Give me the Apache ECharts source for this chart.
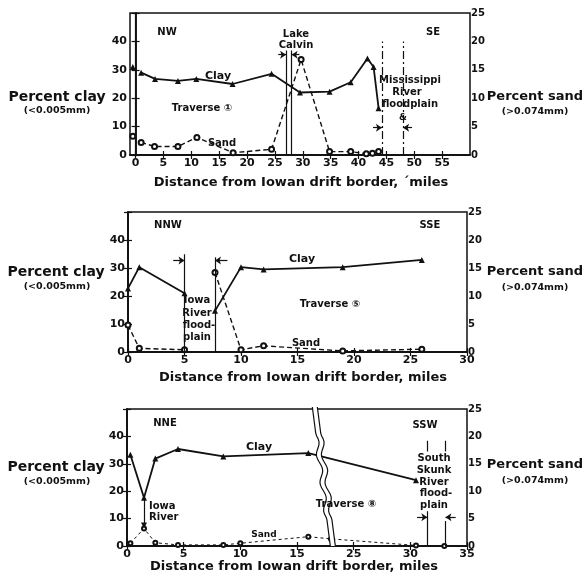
<!DOCTYPE html>
<html><head><meta charset="utf-8">
<script src="https://cdn.jsdelivr.net/npm/echarts@6/dist/echarts.min.js"></script>
<style>html,body{margin:0;padding:0;background:#fff}#c{width:586px;height:579px}</style>
</head><body><div id="c"></div>
<script>
// ---------- data ----------
const xTicks1 = [0,5,10,15,20,25,30,35,40,45,50,55];
const clay1 = [[-0.5,31],[0,'-'],[1,29],[3.5,26.8],[7.6,26.1],[10.9,26.8],[17.4,25],[24.4,28.6],[29.5,22],[34.8,22.3],[38.6,25.6],[41.6,34],[42.7,31],[43.6,16.5]];
const sand1 = [[-0.5,3.3],[0,'-'],[1,2.2],[3.4,1.5],[7.6,1.5],[11,3.1],[17.5,0.4],[24.4,1.0],[29.7,16.8],[34.8,0.6],[38.6,0.6],[41.4,0.2],[42.5,0.3],[43.6,0.6]];
const clay2 = [[0,22.7],[1,30.3],[5,21],[6,'-'],[7.7,14.7],[10,30.3],[12,29.5],[19,30.3],[26,32.9]];
const sand2 = [[0,4.8],[1,0.65],[5,0.4],[6,'-'],[7.7,14.2],[10,0.4],[12,1.1],[19,0.2],[26,0.5]];
const clay3 = [[0.3,33.3],[1.5,17.6],[2.5,31.9],[4.5,35.4],[8.5,32.7],[16,33.9],[30.5,24]];
const sand3 = [[0.3,0.5],[1.5,3.2],[2.5,0.6],[4.5,0.2],[8.5,0.2],[10,0.5],[16,1.7],[23,1.3],[30.5,0.1],[33,0]];
const leftTicks = [0,10,20,30,40];
const rightTicks = [0,5,10,15,20,25];
// annotation lines (x positions in miles)
const lakeCalvin = [27.0, 28.0];
const mississippi = [44.2, 48.0];
const iowaFlood2 = [5, 7.7];
const skunk3 = [31.5, 33.1];
const iowaRiver3 = [1.5, 17.6, 7.5];
// panel 3 axis break: miles 17.5..22.5 are cut out of the distance axis
const break3 = {start:17.5, end:22.5};

const FONT = '"DejaVu Sans", "Liberation Sans", sans-serif';
const ink = '#111';
const lblStyle = {color: ink, fontFamily: FONT, fontWeight: 'bold', fontSize: 11};

// broken-axis scale for panel 3 (real miles -> axis value, and back for labels)
const cut = break3.end - break3.start;
const toAxis3 = x => x <= break3.start ? x : (x >= break3.end ? x - cut : break3.start);
const fromAxis3 = v => v < break3.start ? v : v + cut;
const mapPts3 = arr => arr.map(p => [toAxis3(p[0]), p[1]]);

const grids = [
  {left:130, top:13, width:340, height:142},
  {left:128, top:212, width:339, height:140},
  {left:127, top:409, width:340, height:137}
].map(g => Object.assign({show:true, borderColor: ink, borderWidth: 1.5, backgroundColor:'transparent'}, g));

function xBottom(gi, min, max, extra) {
  return Object.assign({
    type:'value', gridIndex: gi, min, max, position:'bottom',
    axisLine:{show:true, lineStyle:{color:ink, width:1.5}},
    axisTick:{show:true, inside:true, length:4, lineStyle:{color:ink, width:1.2}},
    axisLabel:Object.assign({margin:3}, lblStyle),
    splitLine:{show:false}
  }, extra || {});
}
function xTop(gi, min, max, extra) {
  return Object.assign({
    type:'value', gridIndex: gi, min, max, position:'top',
    axisLine:{show:true, lineStyle:{color:ink, width:1.5}},
    axisTick:{show:true, inside:true, length:4, lineStyle:{color:ink, width:1.2}},
    axisLabel:{show:false},
    splitLine:{show:false}
  }, extra || {});
}
function yLeft(gi) {
  return {
    type:'value', gridIndex: gi, min:0, max:50, interval:10, position:'left',
    axisLine:{show:true, lineStyle:{color:ink, width:1.5}},
    axisTick:{show:true, length:4, lineStyle:{color:ink, width:1.2}},
    axisLabel:Object.assign({margin:3, formatter: v => leftTicks.includes(v) ? String(v) : ''}, lblStyle),
    splitLine:{show:false}
  };
}
function yRight(gi) {
  return {
    type:'value', gridIndex: gi, min:0, max:25, interval:5, position:'right',
    axisLine:{show:true, lineStyle:{color:ink, width:1.5}},
    axisTick:{show:true, length:4, lineStyle:{color:ink, width:1.2}},
    axisLabel:Object.assign({margin:1, formatter: v => rightTicks.includes(v) ? String(v) : ''}, lblStyle, {fontSize:10}),
    splitLine:{show:false}
  };
}

const tickOpts1 = {
  axisTick:{show:true, inside:true, length:4, lineStyle:{color:ink, width:1.2}, customValues: xTicks1},
  axisLabel:Object.assign({margin:3, customValues: xTicks1}, lblStyle)
};

const xAxes = [
  xBottom(0, -1, 60, tickOpts1),
  xTop(0, -1, 60, {axisTick:{show:true, inside:true, length:4, lineStyle:{color:ink, width:1.2}, customValues: xTicks1}}),
  xBottom(1, 0, 30, {interval:5}),
  xTop(1, 0, 30, {interval:5}),
  xBottom(2, 0, 35 - cut, {interval:5, axisLabel:Object.assign({margin:3, formatter: v => String(fromAxis3(v))}, lblStyle)}),
  xTop(2, 0, 35 - cut, {interval:5})
];
const yAxes = [yLeft(0), yRight(0), yLeft(1), yRight(1), yLeft(2), yRight(2)];

function seg(x1, y1, x2, y2, style, sym) {
  return [{coord:[x1,y1], symbol: sym ? sym[0] : 'none', lineStyle: style},
          {coord:[x2,y2], symbol: sym ? sym[1] : 'none'}];
}
const solid = {color:ink, width:1.2, type:'solid'};
const dashdot = {color:ink, width:1.2, type:[8,3,2,3]};
const arrowSym = ['none','arrow'];

function claySeries(p, data, marks) {
  return {
    type:'line', xAxisIndex: 2*p, yAxisIndex: 2*p, data,
    symbol:'triangle', symbolSize:6, showAllSymbol:true,
    lineStyle:{color:ink, width:1.8}, itemStyle:{color:ink},
    connectNulls:false, silent:true, z:3,
    markLine: {silent:true, symbol:'none', symbolSize:6, label:{show:false}, animation:false,
               lineStyle:{color:ink, width:1.2, type:'solid'}, data: marks}
  };
}
function sandSeries(p, data, fine) {
  return {
    type:'line', xAxisIndex: 2*p, yAxisIndex: 2*p+1, data,
    symbol:'emptyCircle', symbolSize: fine ? 4 : 5, showAllSymbol:true,
    lineStyle:{color:ink, width: fine ? 1 : 1.4, type: fine ? [3,3] : [5,3]},
    itemStyle:{color:ink, borderColor:ink, borderWidth:1},
    connectNulls:false, silent:true, z:3
  };
}

const marks1 = [
  seg(0, 0, 0, 50, solid),
  seg(lakeCalvin[0], 0, lakeCalvin[0], 36.8, solid),
  seg(lakeCalvin[1], 0, lakeCalvin[1], 36.8, solid),
  seg(lakeCalvin[0]-1.4, 35.3, lakeCalvin[0], 35.3, solid, arrowSym),
  seg(lakeCalvin[1]+1.4, 35.3, lakeCalvin[1], 35.3, solid, arrowSym),
  seg(mississippi[0], 0, mississippi[0], 40, dashdot),
  seg(mississippi[1], 0, mississippi[1], 40, dashdot),
  seg(mississippi[0]-1.6, 9.6, mississippi[0], 9.6, solid, arrowSym),
  seg(mississippi[1]+1.6, 9.6, mississippi[1], 9.6, solid, arrowSym)
];
const marks2 = [
  seg(iowaFlood2[0], 0, iowaFlood2[0], 34.9, solid),
  seg(iowaFlood2[1], 0, iowaFlood2[1], 33.8, solid),
  seg(iowaFlood2[0]-1, 32.7, iowaFlood2[0], 32.7, solid, arrowSym),
  seg(iowaFlood2[1]+1.1, 32.7, iowaFlood2[1], 32.7, solid, arrowSym)
];
const s0 = toAxis3(skunk3[0]), s1 = toAxis3(skunk3[1]);
const marks3 = [
  seg(toAxis3(iowaRiver3[0]), iowaRiver3[1], toAxis3(iowaRiver3[0]), iowaRiver3[2], solid, ['none','triangle']),
  seg(s0, 34.5, s0, 38.4, solid),
  seg(s1, 34.5, s1, 38.4, solid),
  seg(s0, 0, s0, 12.7, solid),
  seg(s1, 0, s1, 9.1, solid),
  seg(s0-0.9, 10.5, s0, 10.5, solid, arrowSym),
  seg(s1+0.9, 10.5, s1, 10.5, solid, arrowSym)
];

// wavy double break line in panel 3
const breakSeries = {
  type:'custom', xAxisIndex:4, yAxisIndex:4, data:[[break3.start, 0]], silent:true, z:5, clip:false,
  renderItem: function(params, api) {
    const top = api.coord([break3.start, 50]);
    const bot = api.coord([break3.start, 0]);
    const h = bot[1] - top[1];
    function pts(off) {
      const arr = [];
      const n = 48;
      for (let i = 0; i <= n; i++) {
        const t = i / n;
        let x = top[0] - 13 + 18 * t + off;
        if (t > 0.2 && t < 0.8) x += 2.2 * Math.sin((t - 0.2) * Math.PI * 10);
        arr.push([x, top[1] - 2 + (h + 2) * t]);
      }
      return arr;
    }
    return {type:'group', children:[
      {type:'polygon', shape:{points: pts(0).concat(pts(5).reverse())}, style:{fill:'#fff', stroke:null}},
      {type:'polyline', shape:{points: pts(0)}, style:{fill:null, stroke:ink, lineWidth:1.2}},
      {type:'polyline', shape:{points: pts(5)}, style:{fill:null, stroke:ink, lineWidth:1.2}}
    ]};
  }
};

function txt(text, x, y, size, extra) {
  return {type:'text', silent:true, z:10, x, y, style:Object.assign({
    text, fill: ink, font: 'bold ' + size + 'px ' + FONT, textAlign:'center', textVerticalAlign:'middle'
  }, extra || {})};
}
const xTitle = 'Distance from Iowan drift border, miles';
const left = {textAlign:'left'};
const graphics = [
  // side titles
  txt('Percent clay', 57, 97, 14), txt('(<0.005mm)', 57, 111, 9.5),
  txt('Percent sand', 535, 97, 13), txt('(>0.074mm)', 535, 112, 9.5),
  txt('Percent clay', 56, 272, 14), txt('(<0.005mm)', 57, 287, 9.5),
  txt('Percent sand', 535, 272, 13), txt('(>0.074mm)', 535, 288, 9.5),
  txt('Percent clay', 56, 467, 14), txt('(<0.005mm)', 57, 482, 9.5),
  txt('Percent sand', 535, 465, 13), txt('(>0.074mm)', 535, 481, 9.5),
  // x titles
  txt('Distance from Iowan drift border, \u00b4miles', 301, 183, 13),
  txt(xTitle, 303, 378, 13),
  txt(xTitle, 294, 567, 13),
  // panel 1
  txt('NW', 167, 32, 10), txt('SE', 433, 32, 10),
  txt('Lake', 296, 34, 10), txt('Calvin', 296, 45, 10),
  txt('Clay', 218, 76, 11), txt('Traverse \u2460', 202, 108, 10),
  txt('Sand', 222, 143, 10, {rotation: -0.35}),
  txt('Mississippi', 410, 80, 10), txt('River', 407, 92, 10), txt('floodplain', 410, 104, 10), txt('&', 403, 118, 9),
  // panel 2
  txt('NNW', 168, 225, 10), txt('SSE', 430, 225, 10),
  txt('Clay', 302, 259, 11), txt('Traverse \u2464', 330, 304, 10), txt('Sand', 306, 343, 10),
  txt('Iowa', 197, 300, 10), txt('River', 197, 313, 10), txt('flood-', 199, 325, 10), txt('plain', 197, 337, 10),
  // panel 3
  txt('NNE', 165, 423, 10), txt('SSW', 425, 425, 10),
  txt('Clay', 259, 447, 11), txt('Traverse \u2467', 346, 504, 10), txt('Sand', 264, 535, 9),
  txt('Iowa', 149, 506, 10, left), txt('River', 149, 517, 10, left),
  txt('South', 434, 458, 10), txt('Skunk', 434, 470, 10), txt('River', 434, 482, 10), txt('flood-', 436, 493, 10), txt('plain', 434, 505, 10)
];

const chart = echarts.init(document.getElementById('c'), null, {renderer:'canvas'});
chart.setOption({
  animation:false,
  backgroundColor:'#fff',
  grid: grids,
  xAxis: xAxes,
  yAxis: yAxes,
  series: [
    claySeries(0, clay1, marks1), sandSeries(0, sand1, false),
    claySeries(1, clay2, marks2), sandSeries(1, sand2, false),
    claySeries(2, mapPts3(clay3), marks3), sandSeries(2, mapPts3(sand3), true),
    breakSeries
  ],
  graphic: graphics
});
</script></body></html>
